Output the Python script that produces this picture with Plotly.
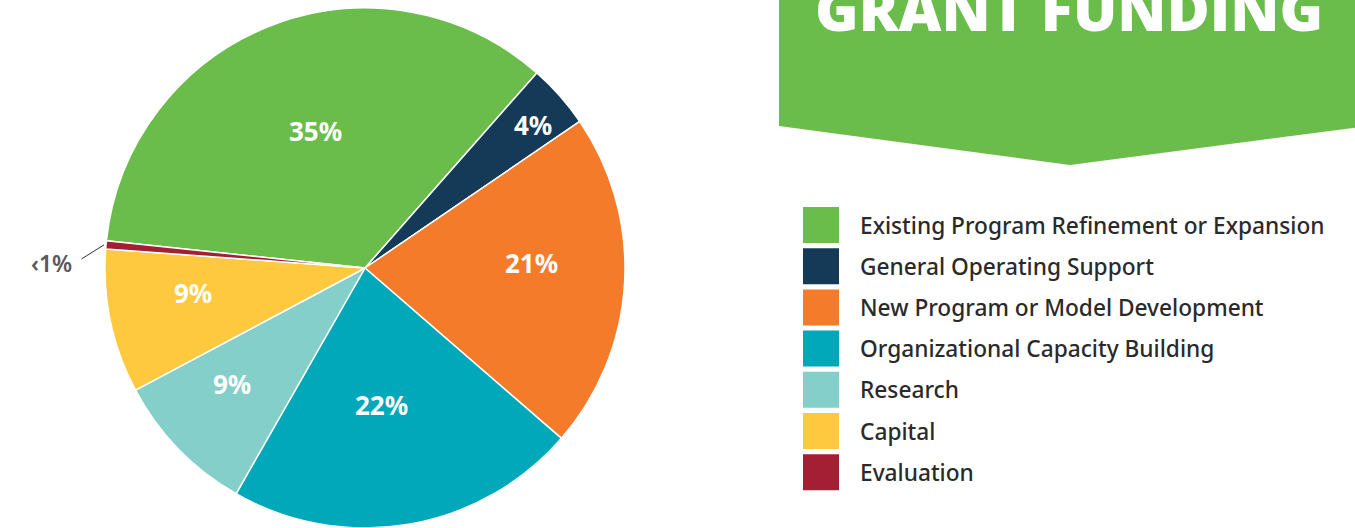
import numpy as np
import plotly.graph_objects as go

W, H = 1355, 528

categories = [
    "Existing Program Refinement or Expansion",
    "General Operating Support",
    "New Program or Model Development",
    "Organizational Capacity Building",
    "Research",
    "Capital",
    "Evaluation",
]
values = [35, 4, 21, 22, 9, 9, 0.5]
labels_text = ["35%", "4%", "21%", "22%", "9%", "9%", "‹1%"]
colors = ["#6abd4b", "#143a57", "#f47b2a", "#00a8b9", "#84cfc9", "#fec83f", "#a51f34"]
title = "GRANT FUNDING"

# label placement (fraction of radius, angle tweak in degrees) per slice
label_frac = [0.56, 0.85, 0.64, 0.53, 0.68, 0.67]
label_dang = [1.5, 1.0, -5.0, 3.0, 3.0, 3.5]

ROT = -84
cx, cy, R = 365, 268, 260


def px(x):
    return x / W


def py(y):
    return 1 - y / H


fig = go.Figure()
fig.add_trace(go.Pie(
    labels=categories,
    values=values,
    textinfo="none",
    sort=False,
    direction="clockwise",
    rotation=ROT,
    marker=dict(colors=colors, line=dict(color="white", width=1.5)),
    domain=dict(x=[px(cx - R), px(cx + R)], y=[py(cy + R), py(cy - R)]),
    showlegend=False,
    hoverinfo="label+percent",
))

shapes = []
annotations = []

# slice labels at slice mid-angles
tot = sum(values)
cum = np.cumsum([0] + values)
mids = [ROT + 360 * (cum[i] + values[i] / 2) / tot for i in range(len(values))]
for i in range(len(values) - 1):
    a = np.deg2rad(mids[i] + label_dang[i])
    r = label_frac[i] * R
    annotations.append(dict(text=labels_text[i], x=px(cx + r * np.sin(a)), y=py(cy - r * np.cos(a)),
                            xref="paper", yref="paper", xanchor="center", yanchor="middle",
                            showarrow=False,
                            font=dict(family="Noto Sans", size=26, color="white", weight=700)))

# banner
pts = [(779, -40), (1360, -40), (1360, 127), (1070, 165), (779, 126)]
path = "M " + " L ".join(f"{px(x)},{py(y)}" for x, y in pts) + " Z"
shapes.append(dict(type="path", path=path, xref="paper", yref="paper",
                   fillcolor="#6abd4b", line=dict(width=0), layer="below"))
annotations.append(dict(text=title,
                        x=px(1069), y=py(50), xref="paper", yref="paper",
                        xanchor="center", yanchor="bottom", showarrow=False,
                        font=dict(family="Open Sans", size=59, color="white", weight=800)))

# legend
for i, (cat, col) in enumerate(zip(categories, colors)):
    top = 207 + 41.2 * i
    shapes.append(dict(type="rect", xref="paper", yref="paper",
                       x0=px(803), x1=px(839), y0=py(top + 36), y1=py(top),
                       fillcolor=col, line=dict(width=0)))
    annotations.append(dict(text=cat, x=px(858), y=py(top + 18), xref="paper", yref="paper",
                            xanchor="left", yanchor="middle", showarrow=False,
                            font=dict(family="Noto Sans", size=22.7, color="#2a2a2a", weight=500)))

# small slice label with leader line
ang = np.deg2rad(mids[-1])
ex = cx + R * np.sin(ang)
ey = cy - R * np.cos(ang)
annotations.append(dict(x=px(ex - 2), y=py(ey), xref="paper", yref="paper",
                        text="", showarrow=True, arrowhead=0, arrowwidth=1,
                        arrowcolor="#333333", ax=-24, ay=15))
annotations.append(dict(text=labels_text[-1], x=px(74), y=py(263), xref="paper", yref="paper",
                        xanchor="right", yanchor="middle", showarrow=False,
                        font=dict(family="Noto Sans", size=23, color="#58595b", weight=600)))

fig.update_layout(
    width=W, height=H,
    margin=dict(l=0, r=0, t=0, b=0),
    paper_bgcolor="white", plot_bgcolor="white",
    shapes=shapes, annotations=annotations,
)
fig.write_html("out.html")
